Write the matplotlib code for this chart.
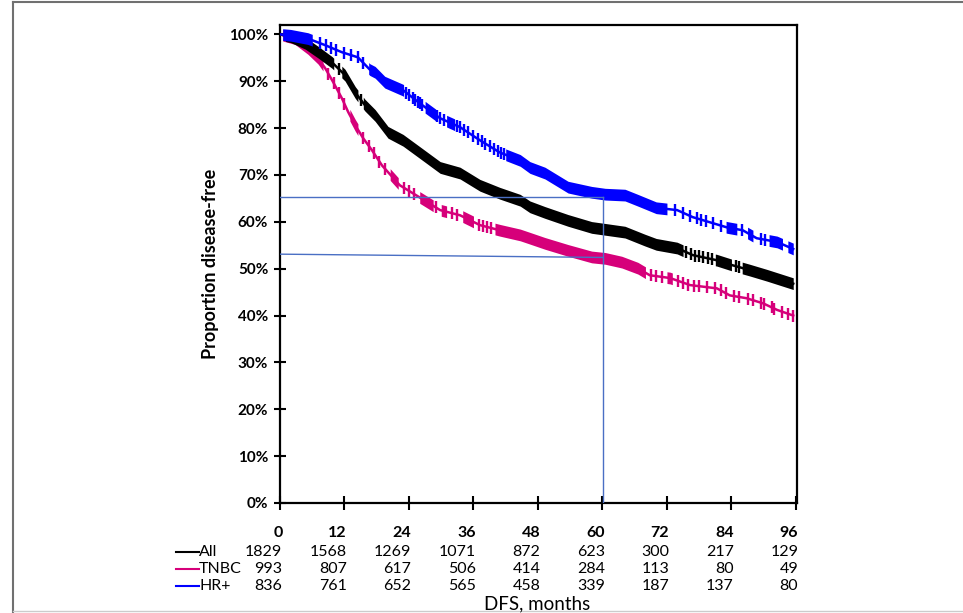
import matplotlib
matplotlib.use("Agg")
import matplotlib.pyplot as plt
import numpy as np
from matplotlib.lines import Line2D
from matplotlib.transforms import blended_transform_factory

plt.rcParams["font.family"] = ["Lato", "DejaVu Sans"]

# ── survival curves (months, % disease-free) ──────────────
all_t = [0, 2, 4.7, 7.1, 9.7, 12.1, 14, 15.8, 17.7, 20.1, 22.9, 26, 29.8, 33.5,
         37.2, 40.9, 44.7, 46.5, 49.3, 53.6, 58, 60.5, 64.2, 67.9, 70, 73.9,
         76.8, 81.3, 84.3, 87.4, 90.6, 95.5]
all_s = [100, 99.5, 98.1, 96.2, 94.0, 91.3, 87.6, 84.9, 82.7, 79.1, 77.4, 74.8,
         71.6, 70.4, 67.8, 66.1, 64.6, 63.2, 62.0, 60.3, 58.8, 58.4, 57.8, 56.1,
         55.2, 54.4, 52.9, 51.8, 50.7, 49.7, 48.6, 46.8]

tnbc_t = [0, 2.8, 5.2, 7.1, 8.4, 9.9, 11.5, 12.7, 14, 15.5, 17.1, 19, 22.3, 26,
          29.8, 33.5, 37.2, 40.9, 44.7, 46.5, 49.3, 53.6, 58, 60.5, 63.6, 66.6,
          68.8, 72.6, 76.3, 81.3, 83.7, 86.8, 89.9, 92.5, 95.5]
tnbc_s = [100, 99.1, 97.0, 94.9, 92.8, 89.8, 86.4, 83.4, 80.6, 77.8, 75.3, 72.0,
          67.8, 65.2, 62.5, 61.4, 59.3, 58.2, 57.2, 56.5, 55.4, 53.9, 52.5, 52.2,
          51.4, 50.1, 48.6, 48.0, 46.5, 45.8, 44.3, 43.7, 42.6, 41.2, 40.0]

hr_t = [0, 2, 5.2, 8.4, 11.5, 14.5, 16.7, 17.7, 19.5, 22.9, 26, 29.8, 33.5, 37.2,
        40.9, 44.7, 46.5, 49.3, 53.6, 58, 60.5, 64.2, 66.6, 70, 73.9, 76.8, 80,
        83.2, 86.1, 88.7, 92.5, 95.5]
hr_s = [100, 99.8, 99.1, 97.7, 96.2, 95.1, 92.5, 91.9, 89.8, 88.1, 85.3, 82.1,
        80.2, 77.4, 74.8, 73.1, 71.6, 70.4, 67.4, 66.3, 65.9, 65.7, 64.6, 63.0,
        62.5, 61.0, 59.9, 58.8, 58.2, 56.5, 55.7, 54.2]

# censored observations: single ticks and stretches where ticks pile up
all_cens = [11, 15, 75.5, 76.5, 77.3, 78, 78.8, 79.6, 80.3, 84.8, 85.5]
all_dense = [(1, 10), (11.5, 14.5), (15.5, 75), (81, 84), (86, 95.5)]

tnbc_cens = [9, 10, 11, 12, 15.5, 16.5, 17.5, 18.5, 19.5, 23, 24, 25, 29, 32, 33,
             37, 37.8, 38.6, 39.3, 69, 70, 71, 74, 75, 76, 77, 78, 79.5, 81, 82,
             83, 84.5, 85.5, 87, 88, 89.5, 90, 91.5, 92, 93.5, 94.5, 95.5]
tnbc_dense = [(0.5, 8), (13, 14.5), (20.5, 22), (26, 28.5), (30, 31), (34, 36),
              (40, 68), (72, 73)]

hr_cens = [7.5, 8.5, 9.5, 10.5, 12, 13.2, 14.5, 15.5, 23.5, 24, 24.8, 25.2, 25.6,
           26, 26.5, 29.3, 29.8, 30.5, 33, 33.5, 34.2, 35, 36, 36.8, 37.5, 38.2,
           39, 39.8, 40.5, 41.2, 41.7, 73.5, 75, 76.3, 77.5, 78.4, 79.3, 80.5, 82,
           86, 89.5, 90.3]
hr_dense = [(0.5, 6), (16.5, 23), (27, 29), (31, 32.5), (42, 72), (83, 85),
            (87, 88), (91, 93.5), (94.5, 95.5)]

# ── number at risk ────────────────────────────────────
risk_months = [0, 12, 24, 36, 48, 60, 72, 84, 96]
risk_all = [1829, 1568, 1269, 1071, 872, 623, 300, 217, 129]
risk_tnbc = [993, 807, 617, 506, 414, 284, 113, 80, 49]
risk_hr = [836, 761, 652, 565, 458, 339, 187, 137, 80]

# guide lines at 60 months
guide_x = [0, 60.1]
guide_hi = 65.2
guide_lo = [53.1, 52.4]

C_ALL = "black"
C_TNBC = "#d6007a"
C_HR = "#0000ff"
C_GUIDE = "#4a6fc4"

TICK_HALF = 1.25   # half height of a censor tick, in % units

fig = plt.figure(figsize=(9.63, 6.13), dpi=100)
fig.patch.set_facecolor("white")
ax = fig.add_axes([280 / 963, 1 - 503 / 613, 517 / 963, 478 / 613])
ax.set_xlim(0, 96.2)
ax.set_ylim(0, 102)


def km_curve(t, s, cens, dense, color):
    t = np.asarray(t, float)
    s = np.asarray(s, float)
    ax.plot(t, s, color=color, lw=1.8, zorder=3)
    cy = np.interp(cens, t, s)
    ax.plot(cens, cy, ls="none", marker="|", ms=8.5, mew=1.7, color=color, zorder=3)
    # runs of ticks packed side by side -> solid vertical-edged band
    for a, b in dense:
        inner = t[(t > a) & (t < b)]
        xs = np.concatenate([[a], inner, [b]])
        ys = np.interp(xs, t, s)
        ax.fill_between(xs, ys - TICK_HALF, ys + TICK_HALF, color=color, lw=0,
                        zorder=3)


km_curve(tnbc_t, tnbc_s, tnbc_cens, tnbc_dense, C_TNBC)
km_curve(all_t, all_s, all_cens, all_dense, C_ALL)
km_curve(hr_t, hr_s, hr_cens, hr_dense, C_HR)

# guide lines
ax.plot(guide_x, [guide_hi, guide_hi], color=C_GUIDE, lw=1, zorder=5)
ax.plot(guide_x, guide_lo, color=C_GUIDE, lw=1, zorder=5)
ax.plot([guide_x[1], guide_x[1]], [0, guide_hi], color=C_GUIDE, lw=1, zorder=5)

for sp in ax.spines.values():
    sp.set_linewidth(1.6)
    sp.set_color("black")

ax.set_yticks(range(0, 101, 10))
ax.set_yticklabels([f"{v}%" for v in range(0, 101, 10)], fontsize=11, fontweight="bold")
ax.set_xticks(risk_months)
ax.set_xticklabels([])
ax.tick_params(axis="both", direction="inout", length=9, width=1.5, pad=4)
ax.tick_params(axis="x", length=10)
ax.set_ylabel("Proportion disease-free", fontsize=13, fontweight="bold", labelpad=7)

# risk table under the axis
tr = blended_transform_factory(ax.transData, fig.transFigure)
rows = [(risk_months, 533, "bold"),
        (risk_all, 552, "normal"),
        (risk_tnbc, 569, "normal"),
        (risk_hr, 586, "normal")]
for vals, ypx, wt in rows:
    yf = 1 - ypx / 613
    for m, v in zip(risk_months, vals):
        ax.text(m + 0.45, yf, str(v), transform=tr, ha="right", va="center",
                fontsize=11.5, fontweight=wt, clip_on=False)

for col, name, ypx in [(C_ALL, "All", 552), (C_TNBC, "TNBC", 569), (C_HR, "HR+", 586)]:
    yf = 1 - ypx / 613
    fig.add_artist(Line2D([176 / 963, 199 / 963], [yf, yf], color=col, lw=1.5,
                          transform=fig.transFigure))
    fig.text(199 / 963, yf, name, ha="left", va="center", fontsize=11.5)

fig.text(537 / 963, 1 - 604 / 613, "DFS, months", ha="center", va="center", fontsize=13.5)

# page frame
fig.add_artist(Line2D([13 / 963, 13 / 963], [0, 1 - 2 / 613], color="#707070", lw=1.5,
                      transform=fig.transFigure))
fig.add_artist(Line2D([13 / 963, 1], [1 - 2 / 613, 1 - 2 / 613], color="#707070", lw=1.5,
                      transform=fig.transFigure))
fig.add_artist(Line2D([13 / 963, 1], [1 - 611 / 613, 1 - 611 / 613], color="#cccccc",
                      lw=1, transform=fig.transFigure))

fig.savefig("out.png", dpi=100)
